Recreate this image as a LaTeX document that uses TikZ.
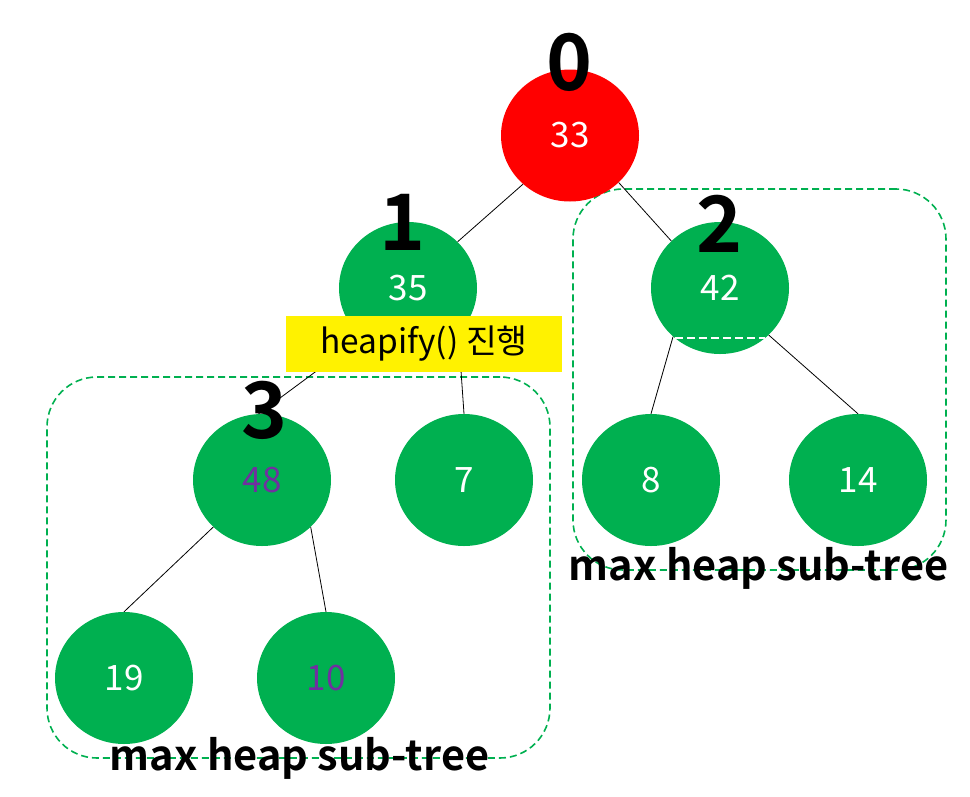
\documentclass[tikz,border=0pt]{standalone}
\usepackage{fontspec}
\setmainfont{Noto Sans CJK KR}[BoldFont={* Bold}]
\usetikzlibrary{shapes.geometric}
\definecolor{grn}{HTML}{00B050}
\definecolor{prp}{HTML}{7030A0}
\begin{document}
\begin{tikzpicture}[x=1pt,y=-1pt,
  hn/.style={ellipse, minimum width=138pt, minimum height=132pt, inner sep=0pt, fill=grn, text=white, font=\fontsize{35}{35}\selectfont},
  edge/.style={black, line width=0.8pt},
  idx/.style={inner sep=0pt, font=\bfseries\fontsize{78}{78}\selectfont},
  gbox/.style={draw=grn, dash pattern=on 7pt off 4pt, line width=1.6pt, rounded corners=50pt, minimum width=#1, inner sep=0pt},
  captext/.style={inner sep=0pt, anchor=base, font=\bfseries\fontsize{41.5}{41.5}\selectfont}]
\useasboundingbox (0,0) rectangle (970,796);
% dashed sub-tree boxes
\node[gbox=503pt, minimum height=381pt] (bl) at (298.5,567.5) {};
\node[gbox=373pt, minimum height=381pt] (br) at (759.5,379.5) {};
% nodes
\node[hn, fill=red] (n0) at (570,135.5) {33};
\node[hn] (n1) at (408,288) {35};
\node[hn] (n2) at (720,288) {42};
\node[hn, text=prp] (n3) at (262,480) {48};
\node[hn] (n4) at (464,480) {7};
\node[hn] (n5) at (651,480) {8};
\node[hn] (n6) at (858,480) {14};
\node[hn] (n7) at (124,678) {19};
\node[hn, text=prp] (n8) at (326,678) {10};
% edges
\draw[edge] (n0.-134) -- (n1.43);
\draw[edge] (n0.-44) -- (n2.136);
\draw[edge] (n1.-133) -- (n3.93);
\draw[edge] (n1.-42) -- (n4.90);
\draw[edge] (n3.-136) -- (n7.90);
\draw[edge] (n3.-44) -- (n8.90);
\draw[edge] (n2.-134) -- (n5.90);
\draw[edge] (n2.-44) -- (n6.90);
\draw[white, line width=2pt, dash pattern=on 8pt off 4pt] (n2.-132) -- (n2.-48);
% index labels
\node[idx] (i0) at (570,62) {0};
\node[idx] (i1) at (403,222) {1};
\node[idx] (i2) at (720,224) {2};
\node[idx] (i3) at (265,410) {3};
% heapify label
\node[fill=yellow, minimum width=276pt, minimum height=56pt, inner sep=0pt, font=\fontsize{33.5}{33.5}\selectfont] (hp) at (424,344) {heapify() 진행};
% captions
\node[captext] (c1) at (299.5,770) {max heap sub-tree};
\node[captext] (c2) at (758.5,580) {max heap sub-tree};
\end{tikzpicture}
\end{document}
